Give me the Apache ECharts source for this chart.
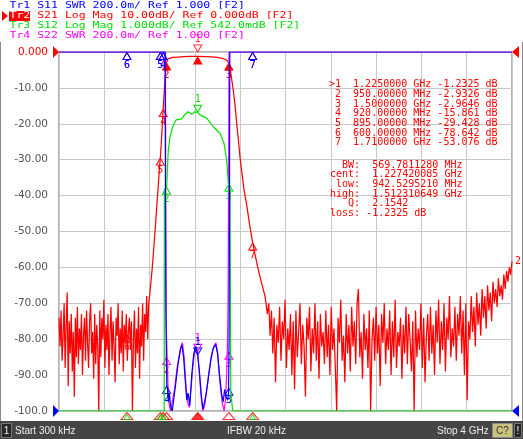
<!DOCTYPE html>
<html>
<head>
<meta charset="utf-8">
<script src="https://cdn.jsdelivr.net/npm/echarts/dist/echarts.min.js"></script>
<style>
  html, body { margin: 0; padding: 0; background: #fff; }
  #main { width: 523px; height: 439px; }
</style>
</head>
<body>
<div id="main"></div>
<script type="text/javascript">
// sweep: 300 kHz .. 4 GHz, all frequencies in MHz
var xStart = 0, xStop = 4000, xDiv = 400;

// markers (shared frequencies), values read per trace
var mkNames = ['1', '2', '3', '4', '5', '6', '7'];
var mkFreq  = [1225, 950, 1500, 920, 895, 600, 1710];
var s21Mk   = [-1.2325, -2.9326, -2.9646, -15.861, -29.428, -78.642, -53.076];
var s11Mk   = [1.31, 1.14, 1.13, 3, 3, 3, 3];
var s22Mk   = [1.33, 1.30, 1.33, 3, 3, 3, 3];
var s12Mk   = [-1.15, -3.21, -3.12];

// Tr2 S21 (dB): lower stopband noise, 0.3 MHz start, 9 MHz step
var s21LowNoise = [
  -74, -82, -72, -86, -79, -70, -88, -76, -67, -93,
  -75, -84, -73, -89, -78, -96, -74, -85, -71, -87,
  -77, -83, -73, -90, -79, -74, -86, -72, -81, -88,
  -75, -70, -84, -78, -91, -73, -87, -76, -82, -100,
  -72, -85, -74, -80, -69, -88, -76, -83, -73, -90,
  -78, -71, -86, -75, -82, -92, -74, -79, -70, -87,
  -77, -84, -72, -89, -76, -81, -73, -86, -78, -74,
  -83, -75, -100, -80, -72, -88, -77, -84, -71, -91,
  -76, -82, -70, -86, -73, -78, -68, -80, -70
];
// skirts and passband [MHz, dB]
var s21Band = [
  [803, -67], [812, -64], [824, -60], [836, -55], [848, -50], [858, -45.5], [868, -41],
  [878, -36.5], [887, -32.5], [895, -29.43], [903, -25.5], [910, -21.5], [920, -15.86],
  [930, -10.5], [940, -6.2], [950, -2.93], [960, -2.0], [975, -1.7], [1000, -1.5],
  [1050, -1.4], [1100, -1.3], [1160, -1.25], [1225, -1.23], [1290, -1.27], [1350, -1.35],
  [1400, -1.5], [1440, -1.75], [1470, -2.1], [1490, -2.5], [1500, -2.96], [1510, -4.3],
  [1522, -7], [1539, -10.6], [1555, -15], [1569, -19.8], [1584, -24.5], [1598, -29.2],
  [1616, -34], [1634, -38.4], [1657, -42.5], [1685, -48.5], [1710, -53.08], [1735, -57],
  [1760, -60.7], [1790, -64.5], [1819, -68]
];
// upper stopband noise, 1828 MHz start, 12 MHz step, up to 4 GHz
var s21HighNoise = [
  -68, -73, -70, -79, -72, -84, -74, -92, -76, -81,
  -71, -86, -75, -80, -69, -88, -77, -83, -73, -90,
  -75, -94, -72, -85, -78, -70, -87, -76, -82, -96,
  -74, -80, -71, -89, -77, -84, -70, -86, -75, -91,
  -73, -82, -78, -87, -72, -85, -76, -90, -71, -83,
  -77, -88, -100, -74, -81, -69, -86, -79, -92, -73,
  -84, -76, -89, -71, -82, -75, -87, -70, -66, -85,
  -78, -91, -73, -83, -77, -88, -72, -100, -80, -74,
  -86, -71, -84, -76, -93, -73, -81, -70, -87, -77,
  -83, -72, -90, -75, -85, -69, -88, -78, -82, -74,
  -91, -76, -84, -71, -87, -73, -80, -89, -75, -100,
  -72, -85, -77, -83, -70, -88, -74, -92, -79, -73,
  -86, -71, -84, -76, -90, -72, -81, -69, -87, -75,
  -83, -70, -89, -74, -80, -68, -85, -77, -82, -71,
  -86, -73, -79, -68, -84, -72, -90, -70, -97, -75,
  -80, -68, -78, -71, -82, -67, -76, -70, -79, -66,
  -74, -68, -77, -65, -72, -67, -75, -64, -70, -66,
  -71, -63, -68, -65, -69, -62, -66, -61, -64, -60, -62, -58.4
];

// Tr1 S11 SWR [MHz, SWR] (values above 3.000 sit on the top edge)
var s11Pts = [
  [0.3, 3], [937, 3], [940, 2.2], [944, 1.6], [948, 1.3], [952, 1.15], [958, 1.12],
  [965, 1.05], [975, 1.1], [985, 1.03], [1000, 1.0], [1012, 1.06], [1030, 1.15],
  [1053, 1.27], [1075, 1.35], [1085, 1.37], [1100, 1.3], [1115, 1.17], [1128, 1.06],
  [1140, 1.1], [1155, 1.03], [1172, 1.2], [1190, 1.32], [1207, 1.36], [1225, 1.31],
  [1240, 1.22], [1255, 1.1], [1270, 1.01], [1285, 1.05], [1300, 1.1], [1318, 1.18],
  [1340, 1.28], [1362, 1.35], [1384, 1.37], [1400, 1.32], [1418, 1.2], [1435, 1.1],
  [1450, 1.05], [1462, 1.12], [1475, 1.08], [1490, 1.06], [1497, 1.1], [1502, 1.4],
  [1505, 2.0], [1508, 3], [4000, 3]
];
// Tr4 S22 SWR
var s22Pts = [
  [0.3, 3], [940, 3], [943, 2.0], [946, 1.5], [950, 1.4], [955, 1.3], [962, 1.15],
  [972, 1.04], [985, 1.0], [1000, 1.05], [1020, 1.12], [1045, 1.25], [1070, 1.34],
  [1090, 1.38], [1105, 1.3], [1120, 1.15], [1135, 1.05], [1150, 1.02], [1165, 1.12],
  [1185, 1.27], [1205, 1.36], [1222, 1.34], [1240, 1.2], [1258, 1.06], [1272, 1.0],
  [1288, 1.04], [1305, 1.12], [1325, 1.22], [1345, 1.31], [1368, 1.36], [1385, 1.38],
  [1400, 1.33], [1418, 1.18], [1440, 1.05], [1458, 1.0], [1470, 1.06], [1480, 1.2],
  [1487, 1.35], [1493, 1.6], [1497, 2.2], [1501, 3], [4000, 3]
];
// Tr3 S12 dB (values below -9.458 sit on the bottom edge)
var s12Pts = [
  [0.3, -9.458], [929, -9.458], [930, -3.3], [945, -3.25], [951, -3.21], [965, -2.19],
  [980, -1.82], [1004, -1.54], [1033, -1.35], [1083, -1.32], [1113, -1.19], [1142, -1.12],
  [1172, -1.19], [1201, -1.12], [1225, -1.15], [1245, -1.21], [1304, -1.30], [1362, -1.54],
  [1422, -1.72], [1457, -2.0], [1481, -2.47], [1495, -3.12], [1510, -3.3], [1516, -3.35],
  [1517, -8.95], [1533, -8.95], [1534, -9.458], [4000, -9.458]
];

var legendRows = [
  'Tr1 S11 SWR 200.0m/ Ref 1.000 [F2]',
  'Tr2 S21 Log Mag 10.00dB/ Ref 0.000dB [F2]',
  'Tr3 S12 Log Mag 1.000dB/ Ref 542.0mdB [F2]',
  'Tr4 S22 SWR 200.0m/ Ref 1.000 [F2]'
];
var tableRows = [
  '>1  1.2250000 GHz -1.2325 dB',
  ' 2  950.00000 MHz -2.9326 dB',
  ' 3  1.5000000 GHz -2.9646 dB',
  ' 4  920.00000 MHz -15.861 dB',
  ' 5  895.00000 MHz -29.428 dB',
  ' 6  600.00000 MHz -78.642 dB',
  ' 7  1.7100000 GHz -53.076 dB'
];
var bwRows = [
  '  BW:  569.7811280 MHz',
  'cent:  1.227420085 GHz',
  ' low:  942.5295210 MHz',
  'high:  1.512310649 GHz',
  '   Q:  2.1542',
  'loss: -1.2325 dB'
];

var RED = '#ff0000', BLUE = '#0000ff', GREEN = '#00e000', MAG = '#ff00ff';
var MONO = '"DejaVu Sans Mono", monospace';

var s21Data = s21LowNoise.map(function (v, i) { return [0.3 + 9 * i, v]; })
  .concat(s21Band)
  .concat(s21HighNoise.map(function (v, i) { return [1828 + 12 * i, v]; }));

// marker glyph: 'up' = triangle under the point, number under it; 'down' = above
function mk(f, v, name, dir, filled, color) {
  return {
    coord: [f, v],
    symbol: dir === 'up' ? 'path://M5,0 L10,9 L0,9 Z' : 'path://M0,0 L10,0 L5,9 Z',
    symbolSize: [8, 7],
    symbolOffset: [0, dir === 'up' ? 4 : -4],
    itemStyle: { color: filled ? color : 'rgba(255,255,255,0)', borderColor: color, borderWidth: 1 },
    label: { show: !!name, formatter: name || '', position: dir === 'up' ? 'bottom' : 'top',
             distance: 0, color: color, fontSize: 10, fontFamily: MONO }
  };
}

var redMarks = [], blueMarks = [], magMarks = [], greenMarks = [];
for (var i = 0; i < mkFreq.length; i++) {
  redMarks.push(mk(mkFreq[i], s21Mk[i], i === 0 ? '' : mkNames[i], 'up', i < 3, RED));
  blueMarks.push(mk(mkFreq[i], s11Mk[i], mkNames[i], i === 0 ? 'down' : 'up', false, BLUE));
  magMarks.push(mk(mkFreq[i], s22Mk[i], mkNames[i], i === 0 ? 'down' : 'up', false, MAG));
}
for (var j = 0; j < s12Mk.length; j++) {
  greenMarks.push(mk(mkFreq[j], s12Mk[j], mkNames[j], j === 0 ? 'down' : 'up', false, GREEN));
}

// stimulus indicators under the plot
var stimData = mkFreq.map(function (f, i) {
  return { value: [f, -100], itemStyle: { color: i === 0 ? RED : 'rgba(255,255,255,0)', borderColor: RED, borderWidth: 1 } };
});
var greenLow = [600, 895, 920, 1710].map(function (f) { return [f, -100]; });

var chart = echarts.init(document.getElementById('main'));

var graphics = [];
// window frame
graphics.push({ type: 'line', shape: { x1: 0.5, y1: 42, x2: 0.5, y2: 421 }, style: { stroke: '#8a8a8a', lineWidth: 1 } });
graphics.push({ type: 'line', shape: { x1: 522.5, y1: 42, x2: 522.5, y2: 421 }, style: { stroke: '#8a8a8a', lineWidth: 1 } });
// legend (glyphs squashed a little to fit the tight line pitch)
var legColors = [BLUE, RED, GREEN, MAG];
var legY = [6, 16, 26, 36];
legendRows.forEach(function (t, k) {
  graphics.push({ type: 'text', z: 10, x: 9.5, y: legY[k], scaleY: 0.82,
    style: { text: t, x: 0, y: 0, fill: legColors[k], font: '11.5px ' + MONO, verticalAlign: 'middle' } });
});
graphics.push({ type: 'rect', z: 11, shape: { x: 9, y: 11, width: 21, height: 10 }, style: { fill: RED } });
graphics.push({ type: 'text', z: 12, x: 9.5, y: 16, scaleY: 0.82,
  style: { text: 'Tr2', x: 0, y: 0, fill: '#fff', font: '11.5px ' + MONO, verticalAlign: 'middle' } });
graphics.push({ type: 'polygon', z: 11, shape: { points: [[2, 11], [8, 16], [2, 21]] }, style: { fill: RED } });
// reference arrows
graphics.push({ type: 'polygon', z: 20, shape: { points: [[53, 46], [59, 52], [53, 58]] }, style: { fill: RED } });
graphics.push({ type: 'polygon', z: 20, shape: { points: [[53, 405], [59, 411], [53, 417]] }, style: { fill: BLUE } });
graphics.push({ type: 'polygon', z: 20, shape: { points: [[519, 46], [512, 52], [519, 58]] }, style: { fill: RED } });
graphics.push({ type: 'polygon', z: 20, shape: { points: [[519, 405], [512, 411], [519, 417]] }, style: { fill: BLUE } });
// marker table
var rowY = [84.7, 94.3, 104, 113.7, 123.3, 133, 142.7];
tableRows.forEach(function (t, k) {
  graphics.push({ type: 'text', z: 15, style: { text: t, x: 329, y: rowY[k], fill: RED, font: '10px ' + MONO, verticalAlign: 'middle' } });
});
var bwY = [165, 174.7, 184.3, 194, 203.7, 213.3];
bwRows.forEach(function (t, k) {
  graphics.push({ type: 'text', z: 15, style: { text: t, x: 330, y: bwY[k], fill: RED, font: '10px ' + MONO, verticalAlign: 'middle' } });
});
// status bar
graphics.push({ type: 'rect', shape: { x: 0, y: 421, width: 523, height: 18 }, style: { fill: '#454545' } });
graphics.push({ type: 'rect', shape: { x: 1.5, y: 423.5, width: 10, height: 14 }, style: { fill: '#262626', stroke: '#777' } });
graphics.push({ type: 'text', style: { text: '1', x: 6.5, y: 431, fill: '#eee', font: '10px "Liberation Sans"', align: 'center', verticalAlign: 'middle' } });
graphics.push({ type: 'text', style: { text: 'Start 300 kHz', x: 15, y: 431, fill: '#eee', font: '10px "Liberation Sans"', verticalAlign: 'middle' } });
graphics.push({ type: 'text', style: { text: 'IFBW 20 kHz', x: 227, y: 431, fill: '#eee', font: '10px "Liberation Sans"', verticalAlign: 'middle' } });
graphics.push({ type: 'text', style: { text: 'Stop 4 GHz', x: 437, y: 431, fill: '#eee', font: '10px "Liberation Sans"', verticalAlign: 'middle' } });
graphics.push({ type: 'rect', shape: { x: 492.5, y: 423.5, width: 20, height: 14 }, style: { fill: '#c9c27c', stroke: '#888' } });
graphics.push({ type: 'text', style: { text: 'C?', x: 502.5, y: 431, fill: '#333', font: '10px "Liberation Sans"', align: 'center', verticalAlign: 'middle' } });
graphics.push({ type: 'rect', shape: { x: 514.5, y: 423.5, width: 7, height: 14 }, style: { fill: '#262626', stroke: '#777' } });
graphics.push({ type: 'text', style: { text: '!', x: 518, y: 431, fill: '#eee', font: '10px "Liberation Sans"', align: 'center', verticalAlign: 'middle' } });

var option = {
  animation: false,
  backgroundColor: '#ffffff',
  grid: { left: 59, right: 11, top: 52, bottom: 28, show: true, borderColor: '#666', borderWidth: 1, backgroundColor: '#fff' },
  xAxis: {
    type: 'value', min: xStart, max: xStop, interval: xDiv,
    axisLine: { show: false }, axisTick: { show: false }, axisLabel: { show: false },
    splitLine: { show: true, lineStyle: { color: '#c8c8c8', width: 1 } }
  },
  yAxis: [
    {
      type: 'value', min: -100, max: 0, interval: 10,
      axisLine: { show: false }, axisTick: { show: false },
      axisLabel: {
        margin: 11, color: '#555', fontSize: 10.5, fontFamily: '"DejaVu Sans"',
        showMinLabel: true, showMaxLabel: true,
        formatter: function (v) {
          if (v === 0) return '{r|0.000}';
          if (v === -100) return '-100.0';
          return v.toFixed(2);
        },
        rich: { r: { color: RED, fontSize: 10.5, fontFamily: '"DejaVu Sans"' } }
      },
      splitLine: { show: true, lineStyle: { color: '#c8c8c8', width: 1 } }
    },
    { type: 'value', min: 1, max: 3, show: false, splitLine: { show: false } },
    { type: 'value', min: -9.458, max: 0.542, show: false, splitLine: { show: false } }
  ],
  series: [
    {
      name: 'Tr2 S21', type: 'line', yAxisIndex: 0, data: s21Data, showSymbol: false, silent: true,
      lineStyle: { color: RED, width: 1.25 }, z: 3,
      endLabel: { show: true, formatter: '2', color: RED, fontSize: 10, fontFamily: MONO, distance: 3 },
      markPoint: { data: redMarks, silent: true }
    },
    {
      name: 'Tr4 S22', type: 'line', yAxisIndex: 1, data: s22Pts, showSymbol: false, silent: true,
      lineStyle: { color: MAG, width: 1.2 }, z: 4, markPoint: { data: magMarks, silent: true }
    },
    {
      name: 'Tr3 S12', type: 'line', yAxisIndex: 2, data: s12Pts, showSymbol: false, silent: true,
      lineStyle: { color: GREEN, width: 1.2 }, z: 5, markPoint: { data: greenMarks, silent: true }
    },
    {
      name: 'Tr1 S11', type: 'line', yAxisIndex: 1, data: s11Pts, showSymbol: false, silent: true,
      lineStyle: { color: BLUE, width: 1.2 }, z: 6, markPoint: { data: blueMarks, silent: true }
    },
    {
      name: 'stim', type: 'scatter', yAxisIndex: 0, data: stimData, clip: false, silent: true, z: 7,
      symbol: 'path://M5,0 L10,7 L0,7 Z', symbolSize: [12, 7], symbolOffset: [0, 5]
    },
    {
      name: 'stim12', type: 'scatter', yAxisIndex: 0, data: greenLow, clip: false, silent: true, z: 8,
      symbol: 'path://M5,0 L10,7 L0,7 Z', symbolSize: [6, 5], symbolOffset: [0, 6],
      itemStyle: { color: 'rgba(255,255,255,0)', borderColor: GREEN, borderWidth: 1 }
    },
    {
      name: 'top1', type: 'scatter', yAxisIndex: 0, data: [[mkFreq[0], 0]], clip: false, silent: true, z: 8,
      symbol: 'path://M0,0 L10,0 L5,9 Z', symbolSize: [8, 7], symbolOffset: [0, -3.5],
      itemStyle: { color: 'rgba(255,255,255,0)', borderColor: RED, borderWidth: 1 },
      label: { show: true, formatter: '1', position: 'top', distance: 0, color: RED, fontSize: 10, fontFamily: MONO }
    }
  ],
  graphic: graphics
};

chart.setOption(option);
</script>
</body>
</html>
